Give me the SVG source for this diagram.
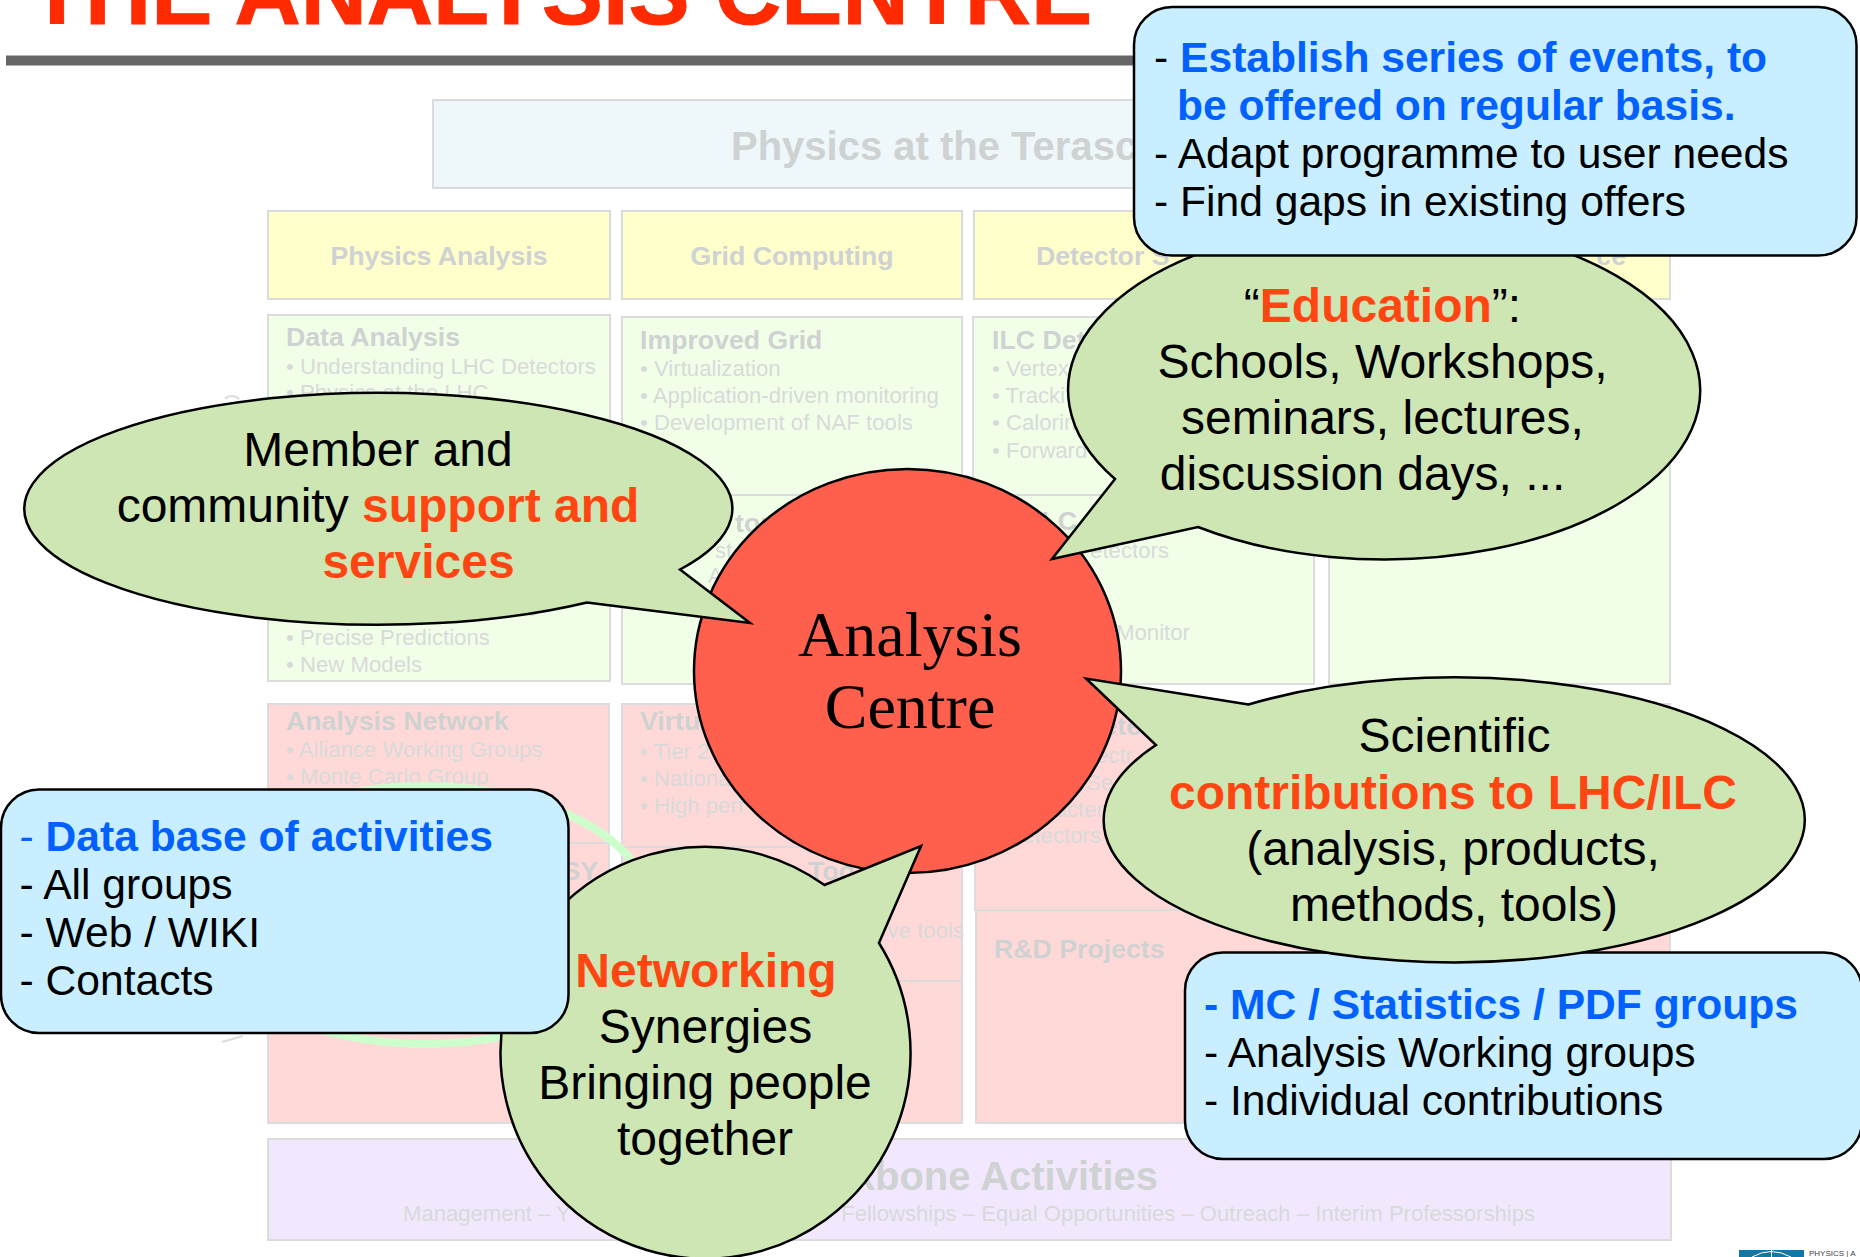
<svg xmlns="http://www.w3.org/2000/svg" width="1860" height="1257" viewBox="0 0 1860 1257">
<style>
text{font-family:"Liberation Sans",Arial,sans-serif}
.bx{stroke:#dcdcdc;stroke-width:2}
.top{fill:#eef7f9}.yel{fill:#ffffcb}.grn{fill:#f2ffe8}.red{fill:#ffd9d7}.pur{fill:#f2e8fd}
.h1{font-size:40px;font-weight:700;fill:#cfd2d2}
.h2{font-size:26.7px;font-weight:700;fill:#cfd2d2}
.it{font-size:22.2px;fill:#d8dada}
.bk{font-size:22.1px;fill:#d8dada}
.bub{fill:#cde6b4;stroke:#000;stroke-width:2.5;stroke-linejoin:miter}
.box{fill:#c8eeff;stroke:#000;stroke-width:2.5}
.bt{font-size:48px;fill:#000;text-anchor:middle}
.ot{font-weight:700;fill:#ff4612}
.lt{font-size:42.6px;fill:#000}
.bl{font-weight:700;fill:#0061ff}
.frag{fill:none;stroke:#dcdcdc;stroke-width:2}
</style>
<g id="title">
<text x="29" y="24" font-size="91.7" font-weight="700" fill="#ff2a00" stroke="#ff2a00" stroke-width="1">THE ANALYSIS CENTRE</text>
<rect x="6" y="55.500" width="1140" height="10" fill="#666"/>
</g>
<g id="programme-background">
<rect class="bx top" x="433" y="100" width="1100" height="88"/>
<text class="h1" x="731" y="160">Physics at the Terasc</text>
<rect class="bx yel" x="268" y="211" width="342" height="88"/>
<text class="h2" x="439" y="265" text-anchor="middle">Physics Analysis</text>
<rect class="bx yel" x="622" y="211" width="340" height="88"/>
<text class="h2" x="792" y="265" text-anchor="middle">Grid Computing</text>
<rect class="bx yel" x="974" y="211" width="341" height="88"/>
<text class="h2" x="1036" y="265">Detector S</text>
<rect class="bx yel" x="1326" y="211" width="344" height="88"/>
<text class="h2" x="1626" y="265" text-anchor="end">ce</text>

<rect class="bx grn" x="268" y="315" width="342" height="366"/>
<text class="h2" x="286" y="346">Data Analysis</text>
<text class="it" x="286" y="374">• Understanding LHC Detectors</text>
<text class="it" x="286" y="400">• Physics at the LHC</text>
<text class="it" x="286" y="645">• Precise Predictions</text>
<text class="it" x="286" y="672">• New Models</text>
<path class="frag" d="M527 613q5 4 10 0M225 399q2-3 7-3 4 0 7 3"/>

<rect class="bx grn" x="622" y="317" width="340" height="178"/>
<text class="h2" x="640" y="349">Improved Grid</text>
<text class="it" x="640" y="376">• Virtualization</text>
<text class="it" x="640" y="403">• Application-driven monitoring</text>
<text class="it" x="640" y="430">• Development of NAF tools</text>
<rect class="bx grn" x="622" y="495" width="340" height="189"/>
<text class="h2" x="735" y="532">tor</text>
<text class="it" x="715" y="558">st</text>
<text class="it" x="708" y="583">A</text>

<rect class="bx grn" x="973" y="317" width="341" height="178"/>
<text class="h2" x="992" y="349">ILC Det</text>
<text class="it" x="992" y="376">• Vertex</text>
<text class="it" x="992" y="403">• Tracki</text>
<text class="it" x="992" y="430">• Calorin</text>
<text class="it" x="992" y="458">• Forward</text>
<rect class="bx grn" x="973" y="495" width="341" height="189"/>
<text class="h2" x="1077" y="530" text-anchor="end">ILC</text>
<text class="it" x="1169" y="558" text-anchor="end">etectors</text>
<text class="it" x="1190" y="640" text-anchor="end">Monitor</text>
<rect class="bx grn" x="1329" y="317" width="341" height="367"/>

<rect class="bx red" x="268" y="704" width="341" height="419"/>
<path class="bx" d="M268 843H609" fill="none"/>
<text class="h2" x="286" y="730">Analysis Network</text>
<text class="it" x="286" y="757">• Alliance Working Groups</text>
<text class="it" x="286" y="784">• Monte Carlo Group</text>
<text class="h2" x="598" y="880" text-anchor="end">SY</text>

<rect class="bx red" x="622" y="704" width="340" height="143"/>
<text class="h2" x="640" y="730">Virtu</text>
<text class="it" x="640" y="759">• Tier 2</text>
<text class="it" x="640" y="786">• Nationa</text>
<text class="it" x="640" y="813">• High perf</text>
<rect class="bx red" x="622" y="847" width="340" height="134"/>
<text class="h2" x="808" y="880">Too</text>
<text class="it" x="964" y="938" text-anchor="end">ve tools</text>
<rect class="bx red" x="622" y="981" width="340" height="142"/>

<rect class="bx red" x="975" y="704" width="695" height="206"/>
<text class="h2" x="1141" y="735" text-anchor="end">ete</text>
<text class="it" x="1133" y="763" text-anchor="end">ectr</text>
<text class="it" x="1113" y="790" text-anchor="end">Se</text>
<text class="it" x="1104" y="817" text-anchor="end">acter</text>
<text class="it" x="1101" y="843" text-anchor="end">etectors</text>
<rect class="bx red" x="976" y="910" width="694" height="213"/>
<text class="h2" x="994" y="958">R&amp;D Projects</text>

<rect class="bx pur" x="268" y="1139" width="1403" height="101"/>
<text class="h1" x="1158" y="1190" text-anchor="end">kbone Activities</text>
<text class="bk" x="403" y="1220.500">Management – Y</text>
<text class="bk" x="1535" y="1220.500" text-anchor="end">Fellowships – Equal Opportunities – Outreach – Interim Professorships</text>
<ellipse cx="425" cy="915" rx="228" ry="129" fill="none" stroke="#ccffcc" stroke-width="8"/>
<path class="frag" d="M222 1042L243 1036"/>
</g>
<g id="analysis-centre">
<ellipse cx="907.5" cy="671" rx="213.5" ry="202" fill="#ff5f4d" stroke="#000" stroke-width="2.5"/>
<text x="910" y="656" font-size="64" text-anchor="middle" style="font-family:'Liberation Serif','Times New Roman',serif">Analysis</text>
<text x="910" y="728" font-size="64" text-anchor="middle" style="font-family:'Liberation Serif','Times New Roman',serif">Centre</text>
</g>
<g id="bubble-support">
<path class="bub" d="M680 569.500L750 623L587 602.500A354 116 0 1 1 680 569.500Z"/>
<text class="bt" x="378" y="466">Member and</text>
<text class="bt" x="378" y="522">community <tspan class="ot">support and</tspan></text>
<text class="bt ot" x="418.5" y="578">services</text>
</g>
<g id="bubble-education">
<path class="bub" d="M1115 479L1052 559L1198 527A316 169 0 1 0 1115 479Z"/>
<text class="bt" x="1382.500" y="321.500">“<tspan class="ot">Education</tspan>”:</text>
<text class="bt" x="1382.500" y="378">Schools, Workshops,</text>
<text class="bt" x="1382.500" y="434">seminars, lectures,</text>
<text class="bt" x="1362.500" y="490">discussion days, ...</text>
</g>
<g id="box-groups">
<rect class="box" x="1185" y="952.5" width="677" height="206.5" rx="38" ry="38"/>
<text class="lt bl" x="1204" y="1019">- MC / Statistics / PDF groups</text>
<text class="lt" x="1204" y="1067">- Analysis Working groups</text>
<text class="lt" x="1204" y="1115">- Individual contributions</text>
</g>
<g id="bubble-scientific">
<path class="bub" d="M1248.500 704.500L1086 678.500L1156 745A350.500 142.500 0 1 0 1248.500 704.500Z"/>
<text class="bt" x="1454.500" y="752">Scientific</text>
<text class="bt ot" x="1453" y="809">contributions to LHC/ILC</text>
<text class="bt" x="1453" y="865">(analysis, products,</text>
<text class="bt" x="1454" y="921">methods, tools)</text>
</g>
<g id="bubble-networking">
<path class="bub" d="M879 943A205 206 0 1 1 824.500 885L921 846Z"/>
<text class="bt ot" x="706" y="987">Networking</text>
<text class="bt" x="705.500" y="1043">Synergies</text>
<text class="bt" x="705" y="1099">Bringing people</text>
<text class="bt" x="705" y="1155">together</text>
</g>
<g id="box-events">
<rect class="box" x="1134" y="7" width="722.5" height="248.5" rx="38" ry="38"/>
<text class="lt" x="1154" y="71.5">- <tspan class="bl">Establish series of events, to</tspan></text>
<text class="lt bl" x="1177" y="119.500">be offered on regular basis.</text>
<text class="lt" x="1154" y="167.5">- Adapt programme to user needs</text>
<text class="lt" x="1154" y="215.5">- Find gaps in existing offers</text>
</g>
<g id="box-database">
<rect class="box" x="1" y="789.5" width="567.500" height="243.5" rx="38" ry="38"/>
<text class="lt" x="19.500" y="851"><tspan fill="#0061ff">- </tspan><tspan class="bl">Data base of activities</tspan></text>
<text class="lt" x="19.500" y="899">- All groups</text>
<text class="lt" x="19.500" y="947">- Web / WIKI</text>
<text class="lt" x="19.500" y="995">- Contacts</text>
</g>
<g id="logo">
<rect x="1739" y="1250" width="65" height="7" fill="#0f78a8"/>
<path d="M1752 1257Q1771 1246 1791 1257M1771.500 1250V1257" fill="none" stroke="#fff" stroke-width="1"/>
<text x="1809" y="1256" font-size="8" fill="#444">PHYSICS | A</text>
</g>
</svg>
